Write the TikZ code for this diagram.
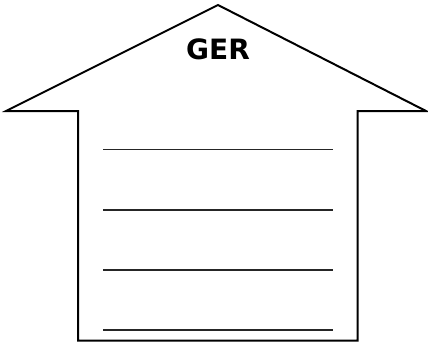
\documentclass[tikz,border=0pt]{standalone}
\usepackage{fontspec}
\setmainfont{DejaVu Sans}
\begin{document}
\begin{tikzpicture}[x=0.75pt,y=-0.75pt,
  outline/.style={draw=black,line width=1.5pt,line join=miter},
  rule/.style={draw=black!85,line width=1.3pt},
  title/.style={font=\bfseries\fontsize{21}{24}\selectfont,inner sep=0pt}]
\useasboundingbox (0,0) rectangle (428,343);
\coordinate (apex) at (218,5);
\coordinate (rl) at (6,111);
\coordinate (rr) at (426,111);
\coordinate (wl) at (78,111);
\coordinate (wr) at (357.5,111);
\coordinate (bl) at (78,340.5);
\coordinate (br) at (357.5,340.5);
\draw[outline] (apex) -- (rr) -- (wr) -- (br) -- (bl) -- (wl) -- (rl) -- cycle;
\node[title,anchor=base] (ger) at (218,59) {GER};
\foreach \y/\n in {149.5/a,209.7/b,270/c,330/d}{
  \coordinate (l\n) at (103.3,\y);
  \coordinate (r\n) at (332.7,\y);
  \draw[rule] (l\n) -- (r\n);
}
\end{tikzpicture}
\end{document}
